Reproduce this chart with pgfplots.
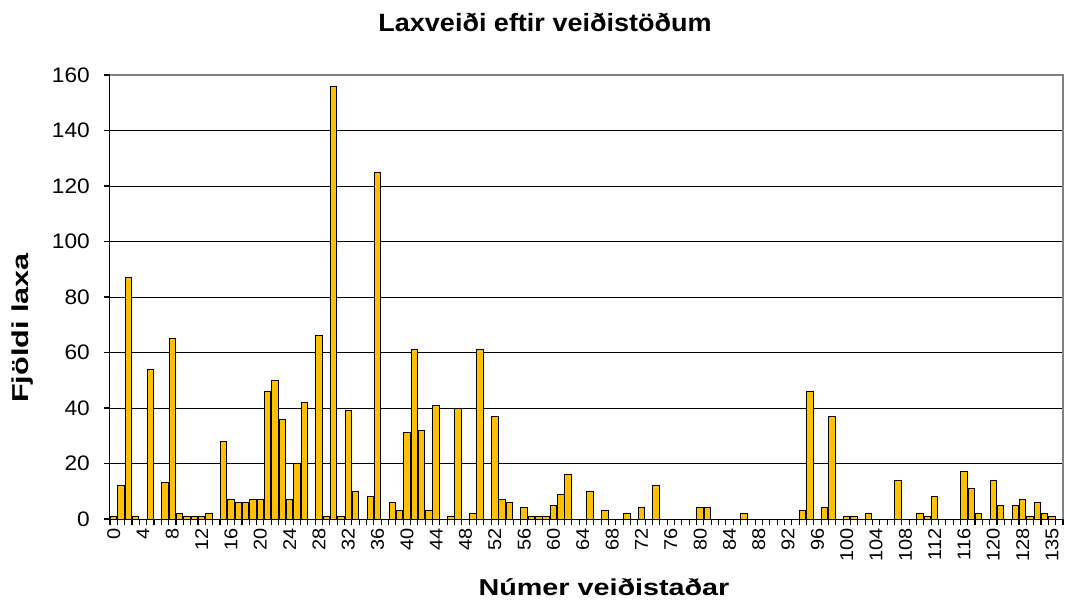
\documentclass[border=0pt]{standalone}
\usepackage{pgfplots}
\pgfplotsset{compat=1.18}
\usepackage{fontspec}
\setmainfont{Liberation Sans}
\newfontfamily\titlefont[FakeStretch=1.08]{Liberation Sans}
\newfontfamily\xlabfont[FakeStretch=1.25]{Liberation Sans}
\newfontfamily\ylabfont[FakeStretch=1.33]{Liberation Sans}
\newfontfamily\tickfont[FakeStretch=1.08]{Liberation Sans}
\definecolor{laxgold}{RGB}{255,192,0}
\definecolor{framegray}{RGB}{128,128,128}

% station index, number of salmon caught
\pgfplotstableread{
idx val
0 1
1 12
2 87
3 1
4 0
5 54
6 0
7 13
8 65
9 2
10 1
11 1
12 1
13 2
14 0
15 28
16 7
17 6
18 6
19 7
20 7
21 46
22 50
23 36
24 7
25 20
26 42
27 0
28 66
29 1
30 156
31 1
32 39
33 10
34 0
35 8
36 125
37 0
38 6
39 3
40 31
41 61
42 32
43 3
44 41
45 0
46 1
47 40
48 0
49 2
50 61
51 0
52 37
53 7
54 6
55 0
56 4
57 1
58 1
59 1
60 5
61 9
62 16
63 0
64 0
65 10
66 0
67 3
68 0
69 0
70 2
71 0
72 4
73 0
74 12
80 4
81 4
86 2
94 3
95 46
96 0
97 4
98 37
99 0
100 1
101 1
102 0
103 2
107 14
110 2
111 1
112 8
116 17
117 11
118 2
119 0
120 14
121 5
122 0
123 5
124 7
125 1
126 6
127 2
128 1
}\laxdata

\begin{document}
\begin{tikzpicture}[x=1pt,y=1pt]
\begin{axis}[
  at={(0,0)}, anchor=south west,
  scale only axis, width=953pt, height=444pt,
  xmin=-0.5, xmax=129.5, ymin=0, ymax=160,
  axis x line*=bottom, axis y line*=left,
  axis line style={black, line width=1pt},
  /pgf/number format/assume math mode=true,
  ytick={0,20,...,160},
  minor ytick={0,20,...,160},
  ymajorgrids, grid style={black, line width=0.9pt},
  xtick={0,4,...,128},
  xticklabels={0,4,8,12,16,20,24,28,32,36,40,44,48,52,56,60,64,68,72,76,80,84,88,92,96,100,104,108,112,116,120,128,135},
  minor xtick={-0.5,0.5,...,129.5},
  tick align=outside, major tick length=0pt, minor tick length=6pt,
  tick style={black, line width=1.1pt},
  xticklabel style={font=\tickfont\fontsize{18.5}{18.5}\selectfont, rotate=90, anchor=east, inner sep=0pt, xshift=-9pt},
  yticklabel style={font=\tickfont\fontsize{21}{21}\selectfont, inner sep=0pt, xshift=-20pt},
  clip=false,
]
\addplot[ybar, bar width=0.88, fill=laxgold, draw=black, line width=1pt]
  table[x=idx, y=val] {\laxdata};
\draw[framegray, line width=1.5pt] (rel axis cs:0,1) -- (rel axis cs:1,1) -- (rel axis cs:1,0);
\end{axis}
\node[font=\titlefont\bfseries\fontsize{25}{25}\selectfont] at (435,497) {Laxveiði eftir veiðistöðum};
\node[font=\xlabfont\bfseries\fontsize{23}{23}\selectfont] at (494,-68) {Númer veiðistaðar};
\node[font=\ylabfont\bfseries\fontsize{23}{23}\selectfont, rotate=90] at (-87,191) {Fjöldi laxa};
\pgfresetboundingbox
\path (-110,-87) rectangle (957,519);
\end{tikzpicture}
\end{document}
